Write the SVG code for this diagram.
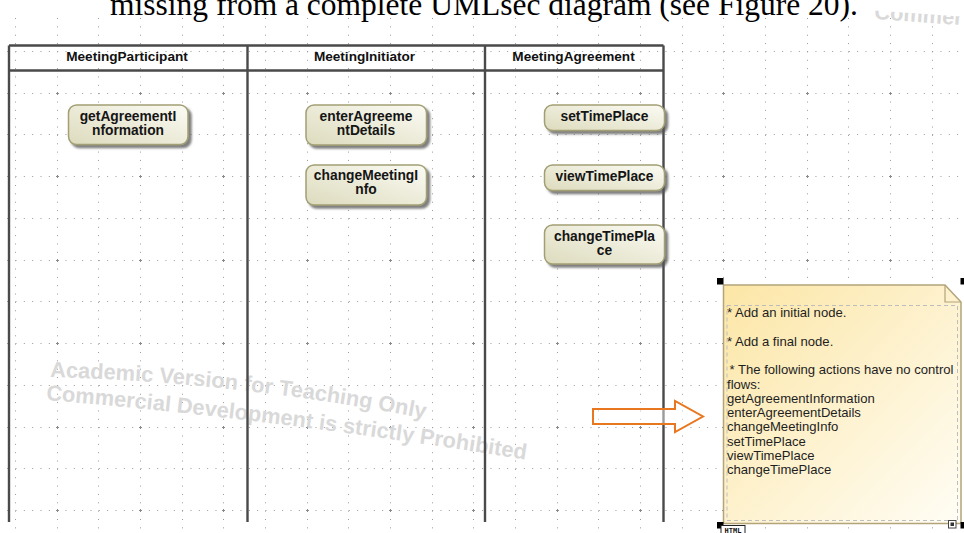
<svg xmlns="http://www.w3.org/2000/svg" width="964" height="533" viewBox="0 0 964 533">
  <defs>
    <style>
      .grid-v { fill: none; stroke: #9a9a9a; stroke-width: 1; stroke-dasharray: 1 7.35; }
      .grid-h { fill: none; stroke: #9a9a9a; stroke-width: 1; stroke-dasharray: 1 7.333; }
      .grid-x { fill: none; stroke: #8a8a8a; stroke-width: 1; }
      .lane { fill: none; stroke: #4a4a4a; stroke-width: 2.4; }
      .lane-title { font-family: "Liberation Sans", Arial, sans-serif; font-weight: bold; font-size: 13.6px; fill: #111; text-anchor: middle; }
      .action rect { fill: url(#actionFill); stroke: #a29f74; stroke-width: 1.5; filter: url(#shadow); }
      .action text { font-family: "Liberation Sans", Arial, sans-serif; font-weight: bold; font-size: 13.8px; fill: #151515; text-anchor: middle; }
      .watermark { font-family: "Liberation Sans", Arial, sans-serif; font-weight: bold; font-size: 21.8px; fill: #d9d9d9; }
      .note-text { font-family: "Liberation Sans", Arial, sans-serif; font-size: 13.1px; fill: #1e1e1e; }
      .handle { fill: #000; }
    </style>
    <linearGradient id="actionFill" x1="1" y1="0" x2="0" y2="1">
      <stop offset="0" stop-color="#fbfbf4"/>
      <stop offset="1" stop-color="#dddbbd"/>
    </linearGradient>
    <linearGradient id="noteFill" x1="0" y1="0" x2="1" y2="1">
      <stop offset="0" stop-color="#fce6a6"/>
      <stop offset="1" stop-color="#fffdf5"/>
    </linearGradient>
    <filter id="shadow" x="-10%" y="-20%" width="130%" height="160%">
      <feGaussianBlur in="SourceAlpha" stdDeviation="1.3"/>
      <feOffset dx="2.5" dy="2.5" result="blur"/>
      <feFlood flood-color="#555" flood-opacity="0.75"/>
      <feComposite in2="blur" operator="in"/>
      <feMerge>
        <feMergeNode/>
        <feMergeNode in="SourceGraphic"/>
      </feMerge>
    </filter>
    <clipPath id="topCut">
      <rect x="0" y="10.5" width="964" height="40"/>
    </clipPath>
    <path id="wm1" d="M50,377 Q240,382 432,420"/>
    <path id="wm2" d="M46,400 Q270,418 540,462"/>
  </defs>

  <rect width="964" height="533" fill="#fff"/>

  <!-- drawing grid -->
  <g id="grid">
    <path class="grid-v" d="M15.5 18V533M57.5 18V533M98.5 18V533M140.5 18V533M182.5 18V533M223.5 18V533M265.5 18V533M307.5 18V533M348.5 18V533M390.5 18V533M432.5 18V533M473.5 18V533M515.5 18V533M557.5 18V533M598.5 18V533M640.5 18V533M682.5 18V533M723.5 18V533M765.5 18V533M807.5 18V533M848.5 18V533M890.5 18V533M932.5 18V533"/>
    <path class="grid-h" d="M-1.17 51.5H964M-1.17 93.5H964M-1.17 134.5H964M-1.17 176.5H964M-1.17 218.5H964M-1.17 260.5H964M-1.17 301.5H964M-1.17 343.5H964M-1.17 385.5H964M-1.17 427.5H964M-1.17 468.5H964M-1.17 510.5H964"/>
    <path class="grid-x" d="M56 93.5h3M57.5 92v3M139 93.5h3M140.5 92v3M222 93.5h3M223.5 92v3M306 93.5h3M307.5 92v3M389 93.5h3M390.5 92v3M472 93.5h3M473.5 92v3M556 93.5h3M557.5 92v3M639 93.5h3M640.5 92v3M722 93.5h3M723.5 92v3M806 93.5h3M807.5 92v3M889 93.5h3M890.5 92v3
      M56 176.5h3M57.5 175v3M139 176.5h3M140.5 175v3M222 176.5h3M223.5 175v3M306 176.5h3M307.5 175v3M389 176.5h3M390.5 175v3M472 176.5h3M473.5 175v3M556 176.5h3M557.5 175v3M639 176.5h3M640.5 175v3M722 176.5h3M723.5 175v3M806 176.5h3M807.5 175v3M889 176.5h3M890.5 175v3
      M56 260.5h3M57.5 259v3M139 260.5h3M140.5 259v3M222 260.5h3M223.5 259v3M306 260.5h3M307.5 259v3M389 260.5h3M390.5 259v3M472 260.5h3M473.5 259v3M556 260.5h3M557.5 259v3M639 260.5h3M640.5 259v3M722 260.5h3M723.5 259v3M806 260.5h3M807.5 259v3M889 260.5h3M890.5 259v3
      M56 343.5h3M57.5 342v3M139 343.5h3M140.5 342v3M222 343.5h3M223.5 342v3M306 343.5h3M307.5 342v3M389 343.5h3M390.5 342v3M472 343.5h3M473.5 342v3M556 343.5h3M557.5 342v3M639 343.5h3M640.5 342v3M722 343.5h3M723.5 342v3M806 343.5h3M807.5 342v3M889 343.5h3M890.5 342v3
      M56 427.5h3M57.5 426v3M139 427.5h3M140.5 426v3M222 427.5h3M223.5 426v3M306 427.5h3M307.5 426v3M389 427.5h3M390.5 426v3M472 427.5h3M473.5 426v3M556 427.5h3M557.5 426v3M639 427.5h3M640.5 426v3M722 427.5h3M723.5 426v3M806 427.5h3M807.5 426v3M889 427.5h3M890.5 426v3
      M56 510.5h3M57.5 509v3M139 510.5h3M140.5 509v3M222 510.5h3M223.5 509v3M306 510.5h3M307.5 509v3M389 510.5h3M390.5 509v3M472 510.5h3M473.5 509v3M556 510.5h3M557.5 509v3M639 510.5h3M640.5 509v3M722 510.5h3M723.5 509v3M806 510.5h3M807.5 509v3M889 510.5h3M890.5 509v3"/>
  </g>

  <!-- caption line above the diagram -->
  <text x="110" y="15" font-family="'Liberation Serif', 'Times New Roman', serif" font-size="31.5" fill="#000">missing from a complete UMLsec diagram (see Figure 20).</text>

  <!-- licence watermark -->
  <g id="watermark">
    <text class="watermark"><textPath href="#wm1">Academic Version for Teaching Only</textPath></text>
    <text class="watermark"><textPath href="#wm2">Commercial Development is strictly Prohibited</textPath></text>
    <text class="watermark" font-size="24" x="874" y="19" transform="rotate(4 874 19)" clip-path="url(#topCut)">Commer</text>
  </g>

  <!-- swimlane partitions -->
  <g id="partitions">
    <path class="lane" d="M9 45.5H663.5M9 70.5H663.5M9 45.5V522M247.5 45.5V522M485 45.5V522M663.5 45.5V522"/>
    <text class="lane-title" x="127" y="61">MeetingParticipant</text>
    <text class="lane-title" x="364.5" y="61">MeetingInitiator</text>
    <text class="lane-title" x="573.5" y="61">MeetingAgreement</text>
  </g>

  <!-- actions -->
  <g id="getAgreementInformation" class="action">
    <rect x="68.5" y="105" width="119.5" height="39.5" rx="8"/>
    <text x="128" y="121">getAgreementI</text>
    <text x="128" y="135">nformation</text>
  </g>
  <g id="enterAgreementDetails" class="action">
    <rect x="306" y="105" width="120.5" height="40" rx="8"/>
    <text x="366" y="121">enterAgreeme</text>
    <text x="366" y="135">ntDetails</text>
  </g>
  <g id="changeMeetingInfo" class="action">
    <rect x="306" y="165" width="120.5" height="40" rx="8"/>
    <text x="366" y="179.5">changeMeetingI</text>
    <text x="366" y="193.5">nfo</text>
  </g>
  <g id="setTimePlace" class="action">
    <rect x="544.5" y="105" width="120" height="25.5" rx="8"/>
    <text x="604.5" y="121">setTimePlace</text>
  </g>
  <g id="viewTimePlace" class="action">
    <rect x="544.5" y="165" width="120" height="25.5" rx="8"/>
    <text x="604.5" y="181">viewTimePlace</text>
  </g>
  <g id="changeTimePlace" class="action">
    <rect x="544.5" y="225" width="120" height="39" rx="8"/>
    <text x="604.5" y="240.5">changeTimePla</text>
    <text x="604.5" y="254.5">ce</text>
  </g>

  <!-- block arrow pointing at the note -->
  <g id="connectors">
    <polygon points="593,409 675,409 675,401 703,416.5 675,432 675,424 593,424" fill="#fff" fill-opacity="0.45" stroke="#e8771f" stroke-width="2" stroke-linejoin="miter"/>
  </g>

  <!-- comment note -->
  <g id="note">
    <path d="M723.5 285H945L961 302V523.5H723.5Z" fill="url(#noteFill)" stroke="#b3a47a" stroke-width="1.5"/>
    <path d="M945 285V302H961" fill="none" stroke="#b3a47a" stroke-width="1.2"/>
    <rect x="727" y="305.5" width="230.5" height="215" fill="none" stroke="#bdbdbd" stroke-width="1" stroke-dasharray="4 3"/>
    <text class="note-text" x="727" y="317">* Add an initial node.</text>
    <text class="note-text" x="727" y="345.5">* Add a final node.</text>
    <text class="note-text" x="729.5" y="374">* The following actions have no control</text>
    <text class="note-text" x="727" y="388.5">flows:</text>
    <text class="note-text" x="727" y="402.7">getAgreementInformation</text>
    <text class="note-text" x="727" y="417">enterAgreementDetails</text>
    <text class="note-text" x="727" y="431.2">changeMeetingInfo</text>
    <text class="note-text" x="727" y="445.5">setTimePlace</text>
    <text class="note-text" x="727" y="459.8">viewTimePlace</text>
    <text class="note-text" x="727" y="474">changeTimePlace</text>
    <!-- selection handles -->
    <rect class="handle" x="717" y="278" width="6.5" height="6.5"/>
    <rect class="handle" x="960.5" y="278" width="6.5" height="6.5"/>
    <rect class="handle" x="717" y="522" width="6.5" height="6.5"/>
    <rect class="handle" x="960.5" y="522" width="6.5" height="6.5"/>
    <!-- HTML text badge -->
    <rect x="721" y="525.5" width="24" height="8" fill="#fff" stroke="#222" stroke-width="1"/>
    <text x="733" y="532.5" font-family="'DejaVu Sans Mono', 'Liberation Mono', monospace" font-size="7" font-weight="bold" fill="#111" text-anchor="middle">HTML</text>
    <!-- resize grip -->
    <rect x="948.5" y="520.5" width="7.5" height="7.5" fill="#fff" stroke="#444" stroke-width="1"/>
    <rect x="950.5" y="522.5" width="3.5" height="3.5" fill="#333"/>
  </g>
</svg>
